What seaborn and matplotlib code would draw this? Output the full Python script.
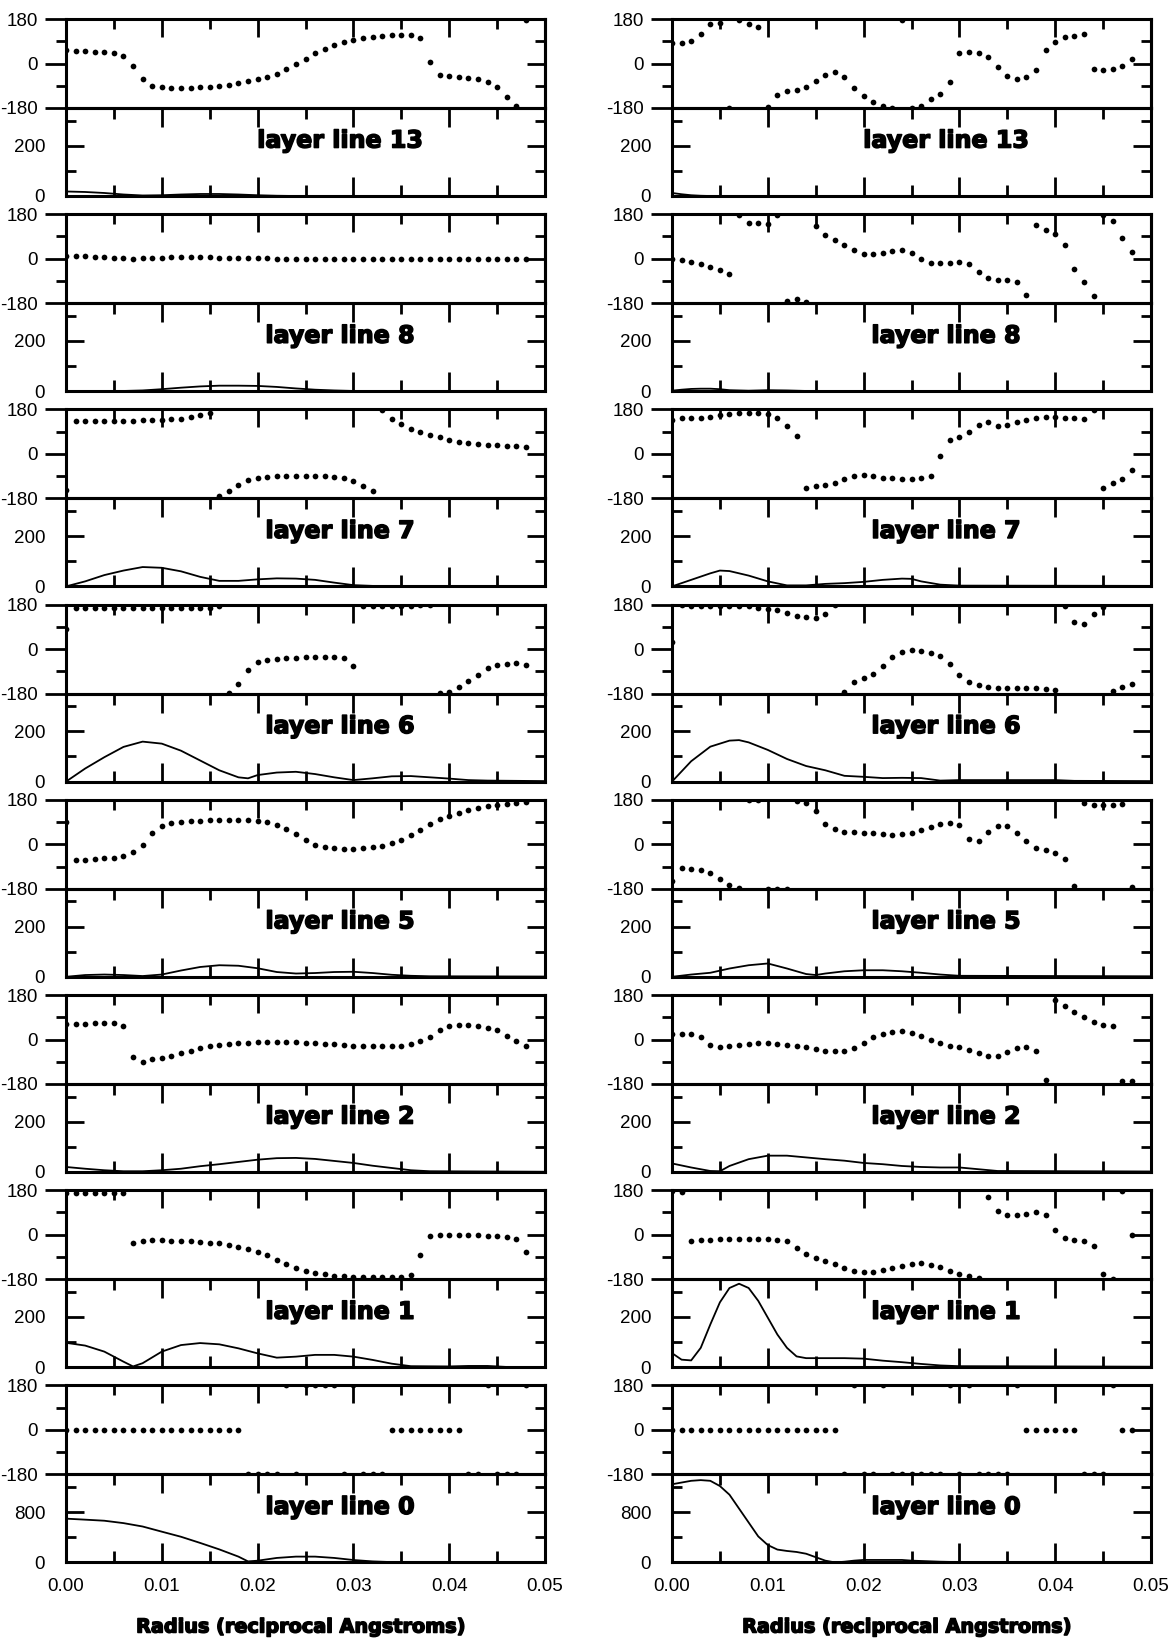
import numpy as np
import pandas as pd
import matplotlib
matplotlib.use("Agg")
import matplotlib.pyplot as plt
from matplotlib import font_manager as fm
from matplotlib import patheffects as pe
from matplotlib.ticker import FixedLocator
import seaborn as sns

# ---------------------------------------------------------------- data
RADIUS = [0.000, 0.001, 0.002, 0.003, 0.004, 0.005, 0.006, 0.007, 0.008, 0.009,
          0.010, 0.011, 0.012, 0.013, 0.014, 0.015, 0.016, 0.017, 0.018, 0.019,
          0.020, 0.021, 0.022, 0.023, 0.024, 0.025, 0.026, 0.027, 0.028, 0.029,
          0.030, 0.031, 0.032, 0.033, 0.034, 0.035, 0.036, 0.037, 0.038, 0.039,
          0.040, 0.041, 0.042, 0.043, 0.044, 0.045, 0.046, 0.047, 0.048]

LAYER_LINES = ["13", "8", "7", "6", "5", "2", "1", "0"]
X_TICKS = [0.00, 0.01, 0.02, 0.03, 0.04, 0.05]
X_MINOR = [0.005, 0.015, 0.025, 0.035, 0.045]
X_TICK_LABELS = ["0.00", "0.01", "0.02", "0.03", "0.04", "0.05"]
X_LABEL = "Radius (reciprocal Angstroms)"
PHASE_TICKS = [-180, 0, 180]
PHASE_TICK_LABELS = ["-180", "0", "180"]

# ---- left column: phases (degrees)
A_LL13_PHASE = [53, 50, 50, 48, 46, 41, 30, -10, -63, -89, -97, -100, -100, -98, -97,
                -94, -90, -86, -79, -72, -63, -53, -42, -23, -1, 20, 44, 60, 75, 87,
                94, 102, 106, 110, 115, 115, 115, 105, 5, -46, -52, -56, -59, -63, -75,
                -97, -136, -170, 176]
A_LL8_PHASE = [12, 12, 10, 8, 5, 3, 1, 0, 1, 2, 4, 5, 5, 5, 5, 5, 4, 3, 3, 2, 2, 1, 0, 0,
               0, 0, -1, -1, -1, -1, -1, -1, -1, -1, -1, -1, -1, -1, -1, -1, -1, -1, -1,
               -1, -1, -1, -1, -1, 0]
A_LL7_PHASE = [-144, 132, 132, 132, 132, 133, 134, 134, 136, 136, 137, 140, 143, 149, 156,
               167, -171, -151, -126, -107, -99, -94, -91, -90, -88, -90, -90, -91, -94,
               -99, -110, -128, -151, 178, 141, 121, 100, 90, 77, 67, 57, 50, 45, 42, 37,
               34, 31, 30, 29]
A_LL6_PHASE = [83, 165, 165, 165, 165, 165, 165, 165, 165, 165, 165, 165, 165, 165, 165,
               165, 176, -177, -143, -84, -54, -43, -39, -36, -35, -33, -33, -33, -33, -35,
               -69, 173, 173, 175, 175, 176, 176, 178, 179, -178, -175, -154, -129, -104,
               -78, -66, -60, -57, -66]
A_LL5_PHASE = [89, -62, -62, -60, -56, -54, -48, -32, -4, 45, 73, 85, 92, 95, 96, 98, 98,
               98, 97, 97, 93, 89, 80, 63, 41, 18, -3, -11, -16, -18, -18, -15, -12, -5, 4,
               18, 36, 59, 82, 102, 114, 128, 139, 148, 155, 160, 164, 168, 173]
A_LL2_PHASE = [64, 64, 64, 65, 67, 68, 56, -70, -91, -80, -75, -67, -55, -45, -35, -26,
               -22, -18, -15, -14, -12, -12, -11, -11, -12, -14, -16, -19, -20, -23, -25,
               -26, -27, -27, -27, -25, -19, -8, 12, 40, 53, 59, 60, 56, 48, 37, 16, -8, -25]
A_LL1_PHASE = [168, 168, 168, 168, 168, 168, 168, -34, -24, -23, -23, -24, -24, -27, -30,
               -33, -35, -41, -48, -57, -68, -82, -101, -120, -136, -147, -155, -160, -166,
               -168, -170, -170, -170, -170, -171, -170, -163, -82, -7, -3, -3, -3, -3, -3,
               -4, -7, -10, -18, -68]
A_LL0_PHASE = [0, 0, 0, 0, 0, 0, 0, 0, 0, 0, 0, 0, 0, 0, 0, 0, 0, 0, 0,
               -180, -180, -180, -180, 180, -180, 180, 180, 180, 180, -180, 180, -180, -180,
               -180, 0, 0, 0, 0, 0, 0, 0, 0, -180, -180, 180, -180, -180, -180, 180]

# ---- left column: amplitudes
A_LL13_AMP_R = [0.000, 0.002, 0.004, 0.006, 0.008, 0.010, 0.012, 0.014, 0.016, 0.018,
                0.020, 0.022, 0.024, 0.050]
A_LL13_AMP = [18, 16, 12, 6, 2, 3, 6, 8, 8, 6, 3, 1, 0, 0]
A_LL8_AMP_R = [0.000, 0.006, 0.008, 0.010, 0.012, 0.014, 0.016, 0.018, 0.020, 0.022,
               0.024, 0.026, 0.028, 0.030, 0.050]
A_LL8_AMP = [0, 1, 3, 8, 14, 19, 22, 22, 21, 17, 11, 6, 3, 1, 0]
A_LL7_AMP_R = [0.000, 0.002, 0.004, 0.006, 0.008, 0.010, 0.012, 0.014, 0.016, 0.018,
               0.020, 0.022, 0.024, 0.026, 0.028, 0.030, 0.032, 0.034, 0.050]
A_LL7_AMP = [0, 20, 45, 63, 77, 74, 60, 38, 22, 22, 28, 32, 31, 26, 15, 5, 2, 0, 0]
A_LL6_AMP_R = [0.000, 0.002, 0.004, 0.006, 0.008, 0.010, 0.012, 0.014, 0.016, 0.018,
               0.019, 0.020, 0.022, 0.024, 0.026, 0.028, 0.030, 0.032, 0.034, 0.036,
               0.038, 0.040, 0.042, 0.044, 0.050]
A_LL6_AMP = [0, 52, 97, 138, 159, 151, 123, 84, 45, 17, 13, 26, 36, 39, 30, 17, 6, 13,
             21, 22, 17, 12, 6, 4, 2]
A_LL5_AMP_R = [0.000, 0.002, 0.004, 0.006, 0.008, 0.010, 0.012, 0.014, 0.016, 0.018,
               0.020, 0.022, 0.024, 0.026, 0.028, 0.030, 0.032, 0.034, 0.036, 0.038, 0.050]
A_LL5_AMP = [0, 7, 9, 7, 3, 9, 25, 39, 46, 44, 34, 19, 13, 15, 19, 20, 15, 8, 4, 2, 1]
A_LL2_AMP_R = [0.000, 0.002, 0.004, 0.006, 0.008, 0.010, 0.012, 0.014, 0.016, 0.018,
               0.020, 0.022, 0.024, 0.026, 0.028, 0.030, 0.032, 0.034, 0.036, 0.038, 0.050]
A_LL2_AMP = [20, 13, 7, 3, 3, 7, 13, 23, 31, 40, 49, 55, 56, 52, 44, 36, 25, 16, 7, 3, 1]
A_LL1_AMP_R = [0.000, 0.002, 0.004, 0.006, 0.007, 0.008, 0.010, 0.012, 0.014, 0.016,
               0.018, 0.020, 0.022, 0.024, 0.026, 0.028, 0.030, 0.032, 0.034, 0.036,
               0.040, 0.042, 0.044, 0.046, 0.050]
A_LL1_AMP = [97, 86, 62, 22, 3, 16, 62, 88, 96, 91, 75, 55, 38, 42, 49, 49, 42, 29, 14,
             4, 3, 5, 5, 1, 1]
A_LL0_AMP_R = [0.000, 0.002, 0.004, 0.006, 0.008, 0.010, 0.012, 0.014, 0.016, 0.018,
               0.019, 0.020, 0.022, 0.024, 0.026, 0.028, 0.030, 0.032, 0.034, 0.040, 0.050]
A_LL0_AMP = [696, 680, 663, 625, 571, 489, 408, 310, 207, 92, 16, 27, 71, 92, 92, 71,
             38, 16, 5, 2, 0]

# ---- right column: phases (degrees)
B_LL13_PHASE = [82, 84, 92, 120, 160, 165, -178, 174, 160, 147, -174, -126, -111, -109,
                -95, -72, -48, -34, -54, -98, -133, -154, -171, -179, 176, -179, -171,
                -144, -125, -75, 43, 48, 43, 27, -14, -52, -62, -54, -27, 54, 88, 106, 111,
                120, -24, -27, -23, -11, 20]
B_LL8_PHASE = [-3, -7, -14, -21, -32, -44, -62, 178, 144, 144, 140, 176, -173, -162,
               -176, 134, 96, 76, 55, 34, 21, 21, 25, 32, 34, 25, -3, -18, -18, -16, -14,
               -23, -55, -80, -87, -87, -96, -147, 137, 118, 100, 55, -41, -96, -150, 178,
               154, 85, 27]
B_LL7_PHASE = [138, 147, 147, 147, 151, 158, 161, 165, 165, 165, 161, 145, 111, 74, -137,
               -130, -126, -116, -101, -91, -85, -91, -96, -99, -101, -101, -99, -89, -8,
               57, 70, 88, 115, 131, 111, 115, 131, 138, 147, 151, 149, 147, 147, 142, 178,
               -137, -118, -101, -65]
B_LL6_PHASE = [27, 178, 175, 175, 175, 175, 175, 175, 175, 168, 164, 160, 146, 133, 130,
               127, 141, 180, -174, -135, -116, -100, -68, -31, -11, -3, -7, -15, -27, -59,
               -105, -133, -146, -153, -156, -157, -158, -158, -158, -161, -166, 176, 109,
               100, 140, 171, -171, -155, -141]
B_LL5_PHASE = [-147, -97, -99, -104, -117, -140, -164, -175, 180, 180, -180, -180, -180,
               177, 166, 135, 82, 60, 50, 48, 46, 44, 40, 37, 40, 44, 57, 71, 82, 87, 78,
               20, 14, 50, 75, 74, 46, 12, -15, -25, -35, -59, -168, 166, 160, 157, 157,
               164, -172]
B_LL2_PHASE = [23, 23, 23, 10, -22, -31, -25, -22, -18, -15, -15, -18, -22, -25, -29, -38,
               -45, -48, -45, -34, -15, 10, 23, 30, 33, 27, 14, -4, -15, -25, -31, -42, -55,
               -65, -65, -52, -35, -29, -45, -165, 160, 135, 112, 91, 71, 60, 55, -168, -168]
B_LL1_PHASE = [175, 172, -27, -20, -20, -18, -18, -16, -16, -16, -18, -20, -27, -54, -77,
               -94, -105, -117, -135, -146, -152, -152, -144, -135, -128, -119, -116, -121,
               -131, -146, -159, -168, -175, 151, 97, 81, 81, 85, 90, 81, 20, -13, -23, -27,
               -47, -158, -178, 175, 0]
B_LL0_PHASE = [0, 0, 0, 0, 0, 0, 0, 0, 0, 0, 0, 0, 0, 0, 0, 0, 0, 0,
               -180, 180, -180, -180, 180, -180, -180, -180, -180, -180, -180, 180, -180,
               180, -180, -180, -180, -180, 180, 0, 0, 0, 0, 0, 0, -180, -180, -180, 180,
               0, 0]

# ---- right column: amplitudes
B_LL13_AMP_R = [0.000, 0.001, 0.002, 0.003, 0.004, 0.050]
B_LL13_AMP = [12, 7, 3, 1, 0, 0]
B_LL8_AMP_R = [0.000, 0.001, 0.002, 0.003, 0.004, 0.005, 0.006, 0.008, 0.010, 0.012,
               0.014, 0.050]
B_LL8_AMP = [2, 6, 9, 10, 10, 8, 4, 2, 4, 3, 1, 0]
B_LL7_AMP_R = [0.000, 0.002, 0.004, 0.005, 0.006, 0.008, 0.010, 0.012, 0.014, 0.016,
               0.018, 0.020, 0.022, 0.024, 0.025, 0.026, 0.028, 0.030, 0.050]
B_LL7_AMP = [0, 26, 52, 63, 61, 43, 20, 4, 4, 10, 13, 18, 26, 31, 30, 20, 7, 3, 2]
B_LL6_AMP_R = [0.000, 0.002, 0.004, 0.006, 0.007, 0.008, 0.010, 0.012, 0.014, 0.016,
               0.018, 0.020, 0.022, 0.024, 0.026, 0.028, 0.030, 0.040, 0.042, 0.050]
B_LL6_AMP = [0, 81, 139, 163, 165, 156, 126, 90, 62, 45, 23, 19, 14, 15, 14, 4, 6, 6, 3, 2]
B_LL5_AMP_R = [0.000, 0.002, 0.004, 0.006, 0.008, 0.010, 0.012, 0.014, 0.015, 0.016,
               0.018, 0.020, 0.022, 0.024, 0.026, 0.028, 0.030, 0.050]
B_LL5_AMP = [0, 9, 16, 33, 46, 53, 33, 11, 7, 13, 22, 26, 26, 22, 16, 9, 4, 2]
B_LL2_AMP_R = [0.000, 0.002, 0.004, 0.005, 0.006, 0.008, 0.010, 0.012, 0.014, 0.016,
               0.018, 0.020, 0.022, 0.024, 0.026, 0.028, 0.030, 0.032, 0.034, 0.050]
B_LL2_AMP = [34, 18, 4, 3, 24, 51, 65, 65, 58, 51, 45, 36, 31, 24, 20, 18, 18, 11, 4, 2]
B_LL1_AMP_R = [0.000, 0.001, 0.002, 0.003, 0.004, 0.005, 0.006, 0.007, 0.008, 0.009,
               0.010, 0.011, 0.012, 0.013, 0.014, 0.016, 0.018, 0.020, 0.022, 0.024,
               0.026, 0.028, 0.030, 0.050]
B_LL1_AMP = [56, 30, 27, 77, 170, 258, 315, 332, 315, 264, 197, 130, 77, 43, 36, 36, 36,
             34, 26, 20, 13, 7, 4, 2]
B_LL0_AMP_R = [0.000, 0.002, 0.003, 0.004, 0.005, 0.006, 0.007, 0.008, 0.009, 0.010,
               0.011, 0.012, 0.013, 0.014, 0.015, 0.016, 0.017, 0.018, 0.019, 0.020,
               0.022, 0.024, 0.025, 0.028, 0.030, 0.050]
B_LL0_AMP = [1243, 1298, 1309, 1298, 1215, 1077, 856, 635, 414, 276, 204, 182, 166, 138,
             83, 28, 0, 11, 28, 39, 39, 39, 28, 11, 5, 0]

# tables for the two columns (built from the named arrays above)
COLUMNS = [
    {"13": (A_LL13_PHASE, A_LL13_AMP_R, A_LL13_AMP), "8": (A_LL8_PHASE, A_LL8_AMP_R, A_LL8_AMP),
     "7": (A_LL7_PHASE, A_LL7_AMP_R, A_LL7_AMP), "6": (A_LL6_PHASE, A_LL6_AMP_R, A_LL6_AMP),
     "5": (A_LL5_PHASE, A_LL5_AMP_R, A_LL5_AMP), "2": (A_LL2_PHASE, A_LL2_AMP_R, A_LL2_AMP),
     "1": (A_LL1_PHASE, A_LL1_AMP_R, A_LL1_AMP), "0": (A_LL0_PHASE, A_LL0_AMP_R, A_LL0_AMP)},
    {"13": (B_LL13_PHASE, B_LL13_AMP_R, B_LL13_AMP), "8": (B_LL8_PHASE, B_LL8_AMP_R, B_LL8_AMP),
     "7": (B_LL7_PHASE, B_LL7_AMP_R, B_LL7_AMP), "6": (B_LL6_PHASE, B_LL6_AMP_R, B_LL6_AMP),
     "5": (B_LL5_PHASE, B_LL5_AMP_R, B_LL5_AMP), "2": (B_LL2_PHASE, B_LL2_AMP_R, B_LL2_AMP),
     "1": (B_LL1_PHASE, B_LL1_AMP_R, B_LL1_AMP), "0": (B_LL0_PHASE, B_LL0_AMP_R, B_LL0_AMP)},
]

# ---------------------------------------------------------------- fonts
avail = {f.name for f in fm.fontManager.ttflist}
NARROW = "Liberation Sans Narrow" in avail
TICK_FONT = "Liberation Sans Narrow" if NARROW else ("Liberation Sans" if "Liberation Sans" in avail
                                                      else "DejaVu Sans")
TICK_SIZE = 15 if NARROW else 13.5
HEAVY_FONT = "DejaVu Sans"
HEAVY_EFFECT = [pe.withStroke(linewidth=1.1, foreground="black")]

sns.set_theme(style="ticks")
plt.rcParams["font.family"] = [TICK_FONT, "DejaVu Sans"]
plt.rcParams.update({
    "axes.edgecolor": "black", "axes.linewidth": 2.2,
    "xtick.color": "black", "ytick.color": "black",
    "xtick.labelcolor": "black", "ytick.labelcolor": "black",
    "axes.facecolor": "white", "figure.facecolor": "white",
})

# ---------------------------------------------------------------- layout
W, H = 1170, 1641
fig = plt.figure(figsize=(W / 100, H / 100), dpi=100)
COL_X = [66, 672]
AX_W = 479
TOP0, PITCH, PH_H, AM_H = 19, 195.2, 89, 88
TW = 2.0  # tick width

titles = []
for col, table in enumerate(COLUMNS):
    x0 = COL_X[col]
    for k, ll in enumerate(LAYER_LINES):
        phase, amp_r, amp = table[ll]
        top = TOP0 + PITCH * k
        axp = fig.add_axes([x0 / W, 1 - (top + PH_H) / H, AX_W / W, PH_H / H])
        axa = fig.add_axes([x0 / W, 1 - (top + PH_H + AM_H) / H, AX_W / W, AM_H / H])

        dfp = pd.DataFrame({"radius": RADIUS, "phase": phase})
        sns.scatterplot(data=dfp, x="radius", y="phase", ax=axp, color="black",
                        s=17, linewidth=0, legend=False)
        dfa = pd.DataFrame({"radius": amp_r, "amplitude": amp})
        sns.lineplot(data=dfa, x="radius", y="amplitude", ax=axa, color="black",
                     linewidth=1.3, legend=False)

        for ax in (axp, axa):
            ax.set_xlim(0, 0.05)
            ax.set_xlabel("")
            ax.set_ylabel("")
            ax.xaxis.set_major_locator(FixedLocator(X_TICKS))
            ax.xaxis.set_minor_locator(FixedLocator(X_MINOR))
            for s in ax.spines.values():
                s.set_linewidth(2.2)
                s.set_visible(True)
            ax.patch.set_alpha(0)

        # phase panel
        axp.set_ylim(-180, 180)
        axp.yaxis.set_major_locator(FixedLocator(PHASE_TICKS))
        axp.yaxis.set_minor_locator(FixedLocator([-90, 90]))
        axp.set_yticklabels(PHASE_TICK_LABELS)
        axp.tick_params(axis="x", which="both", top=True, bottom=False, direction="in",
                        labelbottom=False, labeltop=False, width=TW)
        axp.tick_params(axis="x", which="major", length=13)
        axp.tick_params(axis="x", which="minor", length=7)
        axp.tick_params(axis="y", which="both", left=True, right=False, direction="out",
                        width=TW, labelsize=TICK_SIZE, pad=5)
        axp.tick_params(axis="y", which="major", length=15)
        axp.tick_params(axis="y", which="minor", length=7)
        sec = axp.secondary_yaxis("right")
        sec.yaxis.set_major_locator(FixedLocator(PHASE_TICKS))
        sec.yaxis.set_minor_locator(FixedLocator([-90, 90]))
        sec.tick_params(which="both", direction="in", labelright=False, width=TW)
        sec.tick_params(which="major", length=13)
        sec.tick_params(which="minor", length=7)
        sec.spines["right"].set_linewidth(2.2)

        # amplitude panel
        if ll == "0":
            axa.set_ylim(0, 1400)
            axa.yaxis.set_major_locator(FixedLocator([0, 800]))
            axa.yaxis.set_minor_locator(FixedLocator([400, 1200]))
            axa.set_yticklabels(["0", "800"])
        else:
            axa.set_ylim(0, 350)
            axa.yaxis.set_major_locator(FixedLocator([0, 200]))
            axa.yaxis.set_minor_locator(FixedLocator([100, 300]))
            axa.set_yticklabels(["0", "200"])
        axa.tick_params(axis="both", which="both", direction="in", left=True, right=True,
                        top=True, bottom=True, width=TW, labelsize=TICK_SIZE)
        axa.tick_params(axis="y", which="major", length=13, pad=15)
        axa.tick_params(axis="y", which="minor", length=7)
        axa.tick_params(axis="x", which="major", length=14)
        axa.tick_params(axis="x", which="minor", length=8)
        if k == len(LAYER_LINES) - 1:
            axa.set_xticklabels(X_TICK_LABELS)
            axa.tick_params(axis="x", labelbottom=True, pad=11)
        else:
            axa.tick_params(axis="x", labelbottom=False)

        t = axa.text(0.572, 0.63, f"layer line {ll}", transform=axa.transAxes,
                     ha="center", va="center", family=HEAVY_FONT,
                     fontweight="bold", fontsize=16, color="black",
                     path_effects=HEAVY_EFFECT)
        titles.append(t)

    xl = fig.text((x0 + AX_W / 2 - 4) / W, 1 - 1627 / H, X_LABEL, ha="center",
                  va="center", family=HEAVY_FONT, fontweight="bold",
                  fontsize=18, color="black", path_effects=HEAVY_EFFECT)
    titles.append(xl)

# scale heavy texts to the widths seen in the reference
fig.canvas.draw()
r = fig.canvas.get_renderer()
w_title = titles[0].get_window_extent(r).width
for t in titles:
    if t.get_text() == X_LABEL:
        w = t.get_window_extent(r).width
        t.set_fontsize(t.get_fontsize() * 330 / w)
    else:
        t.set_fontsize(t.get_fontsize() * 166 / w_title)

fig.savefig("out.png", dpi=100, facecolor="white")
